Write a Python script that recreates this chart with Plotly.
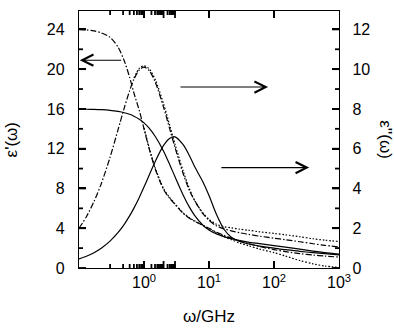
import math
import plotly.graph_objects as go

# ---------------- data ----------------
freq = [0.1, 0.13, 0.17, 0.22, 0.3, 0.4, 0.5, 0.6, 0.7, 0.85, 1.0, 1.2, 1.5, 2.0, 2.5,
        3.0, 4.0, 5.0, 6.0, 8.0, 10, 13, 17, 22, 30, 40, 60, 100, 150, 250, 400, 600, 1000]

# solid model, eps' (left axis)
solid_eps1 = [15.98, 15.97, 15.95, 15.92, 15.86, 15.75, 15.62, 15.46, 15.27, 14.96, 14.6,
              14.07, 13.2, 11.75, 10.37, 9.18, 7.35, 6.12, 5.3, 4.33, 3.82, 3.43, 3.15,
              2.95, 2.75, 2.6, 2.45, 2.25, 2.1, 1.9, 1.7, 1.55, 1.4]
# solid model, eps'' (right axis)
solid_eps2 = [0.455, 0.591, 0.771, 0.996, 1.351, 1.787, 2.21, 2.619, 3.011, 3.563, 4.068,
              4.664, 5.386, 6.169, 6.529, 6.597, 6.2, 5.65, 5.1, 4.35, 3.65, 2.7, 1.95,
              1.55, 1.33, 1.22, 1.1, 1.0, 0.92, 0.84, 0.77, 0.72, 0.66]
# dash-dot model, eps' (left axis)
dashdot_eps1 = [24.0, 23.95, 23.85, 23.65, 23.2, 22.2, 20.8, 19.2, 17.6, 15.8, 14.0, 12.0,
                9.9, 7.9, 7.0, 6.4, 5.5, 5.0, 4.7, 4.3, 4.0, 3.6, 3.3, 3.0, 2.7, 2.45,
                2.15, 1.85, 1.65, 1.45, 1.3, 1.2, 1.1]
# dash-dot model, eps'' (right axis)
dashdot_eps2 = [2.0, 2.58, 3.34, 4.24, 5.56, 6.97, 8.08, 8.91, 9.49, 9.97, 10.1, 9.93, 9.32,
                8.08, 6.97, 6.06, 4.75, 3.9, 3.4, 2.75, 2.4, 2.12, 1.97, 1.87, 1.77, 1.7,
                1.6, 1.5, 1.42, 1.32, 1.22, 1.14, 1.06]

# dotted data
dot2_freq = [0.7, 0.85, 1.0, 1.2, 1.5, 2.0, 2.5, 3.0, 4.0, 5.0, 6.0, 8.0, 10, 13, 17, 22,
             30, 40, 60, 100, 150, 250, 400, 600, 1000]
dotted_eps2 = [9.55, 10.05, 10.17, 10.02, 9.45, 8.25, 7.15, 6.22, 4.88, 3.98, 3.4, 2.78,
               2.45, 2.2, 2.08, 2.02, 1.95, 1.9, 1.82, 1.74, 1.67, 1.57, 1.47, 1.4, 1.33]
dot1_freq = [1.0, 1.2, 1.5, 2.0, 2.5, 3.0, 4.0, 5.0, 6.0, 8.0, 10, 13, 17, 22, 30, 40, 60,
             100, 150, 250, 400, 600, 1000]
dotted_eps1 = [14.1, 12.1, 10.0, 8.0, 7.05, 6.45, 5.55, 5.05, 4.75, 4.3, 3.95, 3.55, 3.15,
               2.85, 2.5, 2.25, 1.9, 1.55, 1.2, 0.75, 0.42, 0.2, 0.05]

# arrows: (tail freq, head freq, level on left axis)
arrows = [(0.47, 0.103, 20.9), (3.45, 81.0, 18.2), (14.7, 348.0, 10.1)]

x_tickvals = [0.1, 1, 10, 100, 1000]
x_ticktext = ["", "10<sup>0</sup>", "10<sup>1</sup>", "10<sup>2</sup>", "10<sup>3</sup>"]
x_minor = [m * 10 ** k for k in range(-1, 3) for m in range(2, 10)]
y_tickvals = [0, 4, 8, 12, 16, 20, 24]
y_minor = [2, 6, 10, 14, 18, 22]
y2_tickvals = [0, 2, 4, 6, 8, 10, 12]
y2_minor = [1, 3, 5, 7, 9, 11]

X_RANGE = [-1, 3]
Y_RANGE = [0, 25.85]
Y2_RANGE = [0, 12.925]

# ---------------- figure ----------------
FONT = "Liberation Sans, Arial, sans-serif"
DASHDOT = "6px,2px,1.5px,2px"
DOTTED = "1.6px,1.8px"
LW = 1.2
MAJOR_LEN, MINOR_LEN = 7, 4

fig = go.Figure()

def add(x, y, dash, yaxis):
    fig.add_trace(go.Scatter(x=x, y=y, mode="lines", yaxis=yaxis, showlegend=False,
                             line=dict(color="black", width=LW, dash=dash, shape="spline",
                                       smoothing=0.8)))

add(freq, solid_eps1, "solid", "y")
add(freq, solid_eps2, "solid", "y2")
add(freq, dashdot_eps1, DASHDOT, "y")
add(freq, dashdot_eps2, DASHDOT, "y2")
add(dot1_freq, dotted_eps1, DOTTED, "y")
add(dot2_freq, dotted_eps2, DOTTED, "y2")

axis_common = dict(showline=True, linecolor="black", linewidth=1.4, showgrid=False,
                   zeroline=False, ticks="inside", tickcolor="black", tickwidth=1.8,
                   tickfont=dict(family=FONT, size=16, color="black"))

fig.update_layout(
    width=394, height=332,
    margin=dict(l=79, r=55, t=11, b=64),
    paper_bgcolor="white", plot_bgcolor="white",
    font=dict(family=FONT, size=16, color="black"),
    xaxis=dict(type="log", range=X_RANGE, tickmode="array", tickvals=x_tickvals,
               ticktext=x_ticktext, ticklen=MAJOR_LEN, mirror="ticks", ticklabelstandoff=0,
               **axis_common),
    yaxis=dict(range=Y_RANGE, tickmode="array", tickvals=y_tickvals, ticklen=MAJOR_LEN,
               ticklabelstandoff=10, **axis_common),
    yaxis2=dict(range=Y2_RANGE, overlaying="y", side="right", anchor="x", tickmode="array",
                tickvals=y2_tickvals, ticklen=MAJOR_LEN, ticklabelstandoff=9, **axis_common),
)

# inward tick marks (pixel-sized shapes positioned on the axis scales)
tick_line = dict(color="black", width=1.8)
shapes = []
for vals, n in ((x_tickvals, MAJOR_LEN), (x_minor, MINOR_LEN)):
    for v in vals:
        lv = math.log10(v)
        shapes.append(dict(type="line", xref="x", yref="paper", ysizemode="pixel",
                           yanchor=0, x0=lv, x1=lv, y0=0, y1=n, line=tick_line))
        shapes.append(dict(type="line", xref="x", yref="paper", ysizemode="pixel",
                           yanchor=1, x0=lv, x1=lv, y0=0, y1=-n, line=tick_line))
for vals, n in ((y_tickvals, MAJOR_LEN), (y_minor, MINOR_LEN)):
    for v in vals:
        shapes.append(dict(type="line", xref="paper", yref="y", xsizemode="pixel",
                           xanchor=0, x0=0, x1=n, y0=v, y1=v, line=tick_line))
for vals, n in ((y2_tickvals, MAJOR_LEN), (y2_minor, MINOR_LEN)):
    for v in vals:
        shapes.append(dict(type="line", xref="paper", yref="y2", xsizemode="pixel",
                           xanchor=1, x0=0, x1=-n, y0=v, y1=v, line=tick_line))
fig.update_layout(shapes=shapes)

annotations = []
for tail, head, level in arrows:
    annotations.append(dict(x=math.log10(head), y=level, ax=math.log10(tail), ay=level,
                            xref="x", yref="y", axref="x", ayref="y", text="",
                            showarrow=True, arrowhead=5, arrowsize=2.0, arrowwidth=1.1,
                            arrowcolor="black"))

annotations += [
    dict(text="ε'(ω)", x=-0.258, y=0.5, xref="paper", yref="paper", textangle=-90,
         showarrow=False, xanchor="center", yanchor="middle",
         font=dict(family=FONT, size=17, color="black")),
    dict(text="ε''(ω)", x=1.178, y=0.5, xref="paper", yref="paper", textangle=90,
         showarrow=False, xanchor="center", yanchor="middle",
         font=dict(family=FONT, size=17, color="black")),
    dict(text="ω/GHz", x=0.5, y=-0.19, xref="paper", yref="paper",
         showarrow=False, xanchor="center", yanchor="middle",
         font=dict(family=FONT, size=17, color="black")),
]
fig.update_layout(annotations=annotations)

fig.write_html("out.html", config={"displayModeBar": False},
               post_script="document.body.style.margin='0';document.body.style.padding='0';")
